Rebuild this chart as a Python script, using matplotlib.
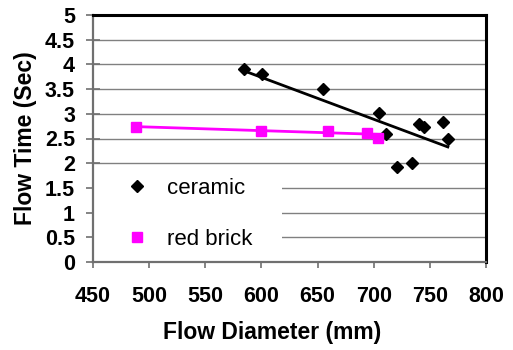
import numpy as np
import matplotlib
matplotlib.use("Agg")
import matplotlib.pyplot as plt
from matplotlib.patches import Rectangle

ceramic_x = [584.5, 600.5, 654.5, 705, 711, 720.4, 734, 740.6, 744.8, 761.4, 766]
ceramic_y = [3.91, 3.80, 3.50, 3.01, 2.60, 1.92, 2.00, 2.79, 2.73, 2.83, 2.50]
brick_x = [488.3, 599.6, 659.5, 694.3, 703.5]
brick_y = [2.73, 2.66, 2.66, 2.62, 2.52]

xticks = [450, 500, 550, 600, 650, 700, 750, 800]
yticks = [0, 0.5, 1, 1.5, 2, 2.5, 3, 3.5, 4, 4.5, 5]
ytick_labels = ["0", "0.5", "1", "1.5", "2", "2.5", "3", "3.5", "4", "4.5", "5"]

plt.rcParams['font.family'] = ['Liberation Sans', 'DejaVu Sans']

fig = plt.figure(figsize=(5.13, 3.5), dpi=100)
ax = fig.add_axes([93/513, 1-262/350, (486-93)/513, (262-15)/350])

ax.set_xlim(450, 800)
ax.set_ylim(0, 5)
ax.set_xticks(xticks)
ax.set_yticks(yticks)
ax.set_yticklabels(ytick_labels)

for y in yticks[1:-1]:
    ax.axhline(y, color='#808080', lw=1.0, zorder=1)

# trendlines
cf = np.polyfit(ceramic_x, ceramic_y, 1)
xc = np.array([min(ceramic_x), max(ceramic_x)])
ax.plot(xc, np.polyval(cf, xc), color='black', lw=2, zorder=3)
bf = np.polyfit(brick_x, brick_y, 1)
xb = np.array([min(brick_x), max(brick_x)])
ax.plot(xb, np.polyval(bf, xb), color='#FF00FF', lw=2, zorder=3)

ax.plot(ceramic_x, ceramic_y, linestyle='none', marker='D', markersize=6,
        color='black', label='ceramic', zorder=4)
ax.plot(brick_x, brick_y, linestyle='none', marker='s', markersize=7,
        color='#FF00FF', label='red brick', zorder=4)

# legend background
ax.add_patch(Rectangle((0, 0.02), 0.48, 0.365, transform=ax.transAxes,
                       facecolor='white', edgecolor='none', zorder=2))
leg = ax.legend(loc='upper left', bbox_to_anchor=(0.061, 0.375), frameon=False,
                handlelength=1, handletextpad=0.85, labelspacing=1.32,
                prop={'size': 16}, numpoints=1, borderaxespad=0)
leg.set_zorder(5)

for s in ['top', 'right']:
    ax.spines[s].set_color('black')
    ax.spines[s].set_linewidth(2.2)
for s in ['left', 'bottom']:
    ax.spines[s].set_color('#707070')
    ax.spines[s].set_linewidth(1.6)

ax.tick_params(axis='y', direction='inout', length=10, color='#707070', width=1.2, pad=8)
ax.tick_params(axis='x', direction='out', length=4.5, color='#707070', width=1.2, pad=13)
for lbl in ax.get_xticklabels() + ax.get_yticklabels():
    lbl.set_fontweight('bold')
    lbl.set_fontsize(15.5)

ax.set_xlabel('Flow Diameter (mm)', fontsize=16.5, fontweight='bold')
ax.set_ylabel('Flow Time (Sec)', fontsize=16.5, fontweight='bold')
ax.xaxis.set_label_coords((272.5-93)/393, -(321-262)/247)
ax.yaxis.set_label_coords((37-93)/393, 0.5)

fig.savefig('out.png', dpi=100)
